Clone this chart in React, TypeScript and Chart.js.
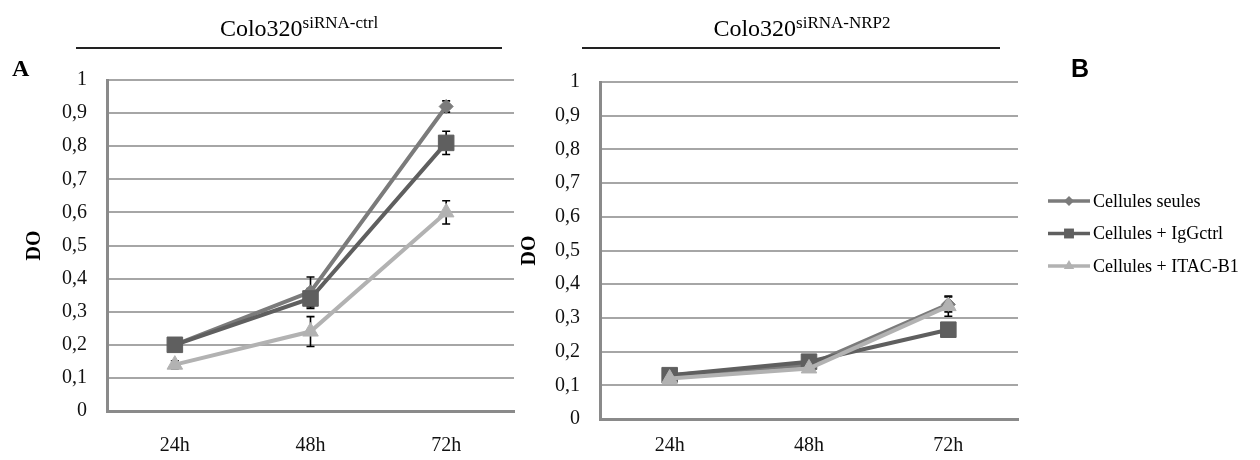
import React, { useEffect, useRef } from 'react';
import { Chart, registerables } from 'chart.js';

Chart.register(...registerables);

// ---------- data ----------
const categories = ['24h', '48h', '72h'];
const seriesLabels = ['Cellules seules', 'Cellules + IgGctrl', 'Cellules + ITAC-B1'];
const yTickLabels = ['0', '0,1', '0,2', '0,3', '0,4', '0,5', '0,6', '0,7', '0,8', '0,9', '1'];

// Colo320 siRNA-ctrl
const ctrlSeules = [0.2, 0.36, 0.92];
const ctrlIgG = [0.2, 0.34, 0.81];
const ctrlItac = [0.14, 0.24, 0.6];
const ctrlSeulesErr = [0.005, 0.045, 0.017];
const ctrlIgGErr = [0.005, 0.03, 0.035];
const ctrlItacErr = [0.012, 0.045, 0.035];

// Colo320 siRNA-NRP2
const nrp2Seules = [0.13, 0.16, 0.34];
const nrp2IgG = [0.13, 0.17, 0.265];
const nrp2Itac = [0.12, 0.15, 0.335];
const nrp2SeulesErr = [0.005, 0.008, 0.022];
const nrp2IgGErr = [0.005, 0.008, 0.01];
const nrp2ItacErr = [0.005, 0.008, 0.03];

// ---------- styles ----------
const seriesColors = ['#7b7b7b', '#5f5f5f', '#b2b2b2'];
const seriesPointStyles = ['rectRot', 'rect', 'triangle'];
const seriesPointRadii = [7, 11, 9];
const seriesOrder = [3, 2, 1];

const SERIF = "'Liberation Serif', 'Times New Roman', serif";

const errorBarPlugin = {
  id: 'errorBars',
  beforeDatasetsDraw(chart: any) {
    const { ctx } = chart;
    const yScale = chart.scales.y;
    ctx.save();
    ctx.strokeStyle = '#000';
    ctx.lineWidth = 1.6;
    chart.data.datasets.forEach((ds: any, i: number) => {
      const errs = ds.errors;
      if (!errs) return;
      const meta = chart.getDatasetMeta(i);
      meta.data.forEach((pt: any, j: number) => {
        const v = ds.data[j];
        const e = errs[j];
        const x = pt.x;
        const yt = yScale.getPixelForValue(v + e);
        const yb = yScale.getPixelForValue(v - e);
        ctx.beginPath();
        ctx.moveTo(x, yt);
        ctx.lineTo(x, yb);
        ctx.moveTo(x - 4, yt);
        ctx.lineTo(x + 4, yt);
        ctx.moveTo(x - 4, yb);
        ctx.lineTo(x + 4, yb);
        ctx.stroke();
      });
    });
    ctx.restore();
  },
};

function drawMarker(ctx: CanvasRenderingContext2D, style: string, x: number, y: number, r: number) {
  ctx.beginPath();
  if (style === 'rectRot') {
    ctx.moveTo(x, y - r);
    ctx.lineTo(x + r, y);
    ctx.lineTo(x, y + r);
    ctx.lineTo(x - r, y);
  } else if (style === 'rect') {
    const s = r * Math.SQRT1_2;
    ctx.rect(x - s, y - s, 2 * s, 2 * s);
  } else {
    const h = r;
    ctx.moveTo(x, y - h);
    ctx.lineTo(x + h * Math.sin((2 * Math.PI) / 3), y + h / 2);
    ctx.lineTo(x - h * Math.sin((2 * Math.PI) / 3), y + h / 2);
  }
  ctx.closePath();
  ctx.fill();
}

const sideLegendPlugin = {
  id: 'sideLegend',
  afterDraw(chart: any, _args: any, opts: any) {
    if (!opts || !opts.display) return;
    const { ctx } = chart;
    ctx.save();
    ctx.font = `18px ${SERIF}`;
    ctx.textBaseline = 'middle';
    ctx.textAlign = 'left';
    chart.data.datasets.forEach((ds: any, i: number) => {
      const y = opts.y0 + i * opts.gap;
      ctx.strokeStyle = ds.borderColor;
      ctx.fillStyle = ds.borderColor;
      ctx.lineWidth = 3.5;
      ctx.beginPath();
      ctx.moveTo(opts.x0, y);
      ctx.lineTo(opts.x0 + opts.len, y);
      ctx.stroke();
      drawMarker(ctx, ds.pointStyle, opts.x0 + opts.len / 2, y, opts.markerRadii[i]);
      ctx.fillStyle = '#000';
      ctx.fillText(ds.label, opts.x0 + opts.len + 3, y + 1);
    });
    ctx.restore();
  },
};

function buildConfig(
  values: number[][],
  errors: number[][],
  p: { top: number; right: number; yWidth: number; xHeight: number; xPad: number; titlePad: number; legend: any }
): any {
  return {
    type: 'line',
    data: {
      labels: categories,
      datasets: values.map((vals, i) => ({
        label: seriesLabels[i],
        data: vals,
        errors: errors[i],
        borderColor: seriesColors[i],
        backgroundColor: seriesColors[i],
        pointBackgroundColor: seriesColors[i],
        pointBorderColor: seriesColors[i],
        pointBorderWidth: 1,
        pointStyle: seriesPointStyles[i],
        pointRadius: seriesPointRadii[i],
        pointHoverRadius: seriesPointRadii[i],
        borderWidth: 4,
        tension: 0,
        fill: false,
        order: seriesOrder[i],
      })),
    },
    options: {
      responsive: false,
      animation: false,
      devicePixelRatio: 1,
      layout: { padding: { top: p.top, right: p.right, left: 0, bottom: 0 } },
      plugins: {
        legend: { display: false },
        tooltip: { enabled: false },
        sideLegend: p.legend,
      },
      scales: {
        x: {
          offset: true,
          grid: { display: false, drawTicks: false },
          border: { display: true, color: '#8a8a8a', width: 3 },
          ticks: { font: { family: SERIF, size: 20 }, color: '#111', padding: p.xPad },
          afterFit: (s: any) => {
            s.height = p.xHeight;
          },
        },
        y: {
          min: 0,
          max: 1,
          ticks: {
            stepSize: 0.1,
            font: { family: SERIF, size: 20 },
            color: '#111',
            padding: 20,
            callback: (_v: any, idx: number) => yTickLabels[idx],
          },
          grid: { color: '#a6a6a6', lineWidth: 2, drawTicks: false },
          border: { display: true, color: '#8a8a8a', width: 3 },
          title: {
            display: true,
            text: 'DO',
            font: { family: SERIF, size: 20, weight: 'bold' },
            color: '#000',
            padding: { top: p.titlePad, bottom: 0 },
          },
          afterFit: (s: any) => {
            s.width = p.yWidth;
          },
        },
      },
    },
    plugins: [errorBarPlugin, sideLegendPlugin],
  };
}

export default function App() {
  const ref1 = useRef<HTMLCanvasElement>(null);
  const ref2 = useRef<HTMLCanvasElement>(null);

  useEffect(() => {
    const c1 = new Chart(
      ref1.current as HTMLCanvasElement,
      buildConfig([ctrlSeules, ctrlIgG, ctrlItac], [ctrlSeulesErr, ctrlIgGErr, ctrlItacErr], {
        top: 80,
        right: 0,
        yWidth: 107,
        xHeight: 49,
        xPad: 23,
        titlePad: 23,
        legend: { display: false },
      })
    );
    const c2 = new Chart(
      ref2.current as HTMLCanvasElement,
      buildConfig([nrp2Seules, nrp2IgG, nrp2Itac], [nrp2SeulesErr, nrp2IgGErr, nrp2ItacErr], {
        top: 82,
        right: 242,
        yWidth: 100,
        xHeight: 41,
        xPad: 15,
        titlePad: 18,
        legend: { display: true, x0: 548, len: 42, y0: 201, gap: 32.5, markerRadii: [5, 7, 6] },
      })
    );
    return () => {
      c1.destroy();
      c2.destroy();
    };
  }, []);

  return (
    <div
      style={{
        position: 'absolute',
        left: 0,
        top: 0,
        width: 1260,
        height: 460,
        background: '#fff',
        overflow: 'hidden',
        fontFamily: SERIF,
        color: '#000',
      }}
    >
      <canvas ref={ref1} width={526} height={460} style={{ position: 'absolute', left: 0, top: 0 }} />
      <canvas ref={ref2} width={760} height={460} style={{ position: 'absolute', left: 500, top: 0 }} />

      <div style={{ position: 'absolute', left: 0, top: 16, width: 598, textAlign: 'center', fontSize: 24, lineHeight: '24px', whiteSpace: 'nowrap' }}>
        Colo320<span style={{ fontSize: 17, position: 'relative', top: -8 }}>siRNA-ctrl</span>
      </div>
      <div style={{ position: 'absolute', left: 76, top: 47, width: 426, height: 2, background: '#222' }} />

      <div style={{ position: 'absolute', left: 502, top: 16, width: 600, textAlign: 'center', fontSize: 24, lineHeight: '24px', whiteSpace: 'nowrap' }}>
        Colo320<span style={{ fontSize: 17, position: 'relative', top: -8 }}>siRNA-NRP2</span>
      </div>
      <div style={{ position: 'absolute', left: 582, top: 47, width: 418, height: 2, background: '#222' }} />

      <div style={{ position: 'absolute', left: 12, top: 56, fontSize: 24, lineHeight: '24px', fontWeight: 'bold' }}>A</div>
      <div
        style={{
          position: 'absolute',
          left: 1071,
          top: 56,
          fontSize: 25,
          lineHeight: '25px',
          fontWeight: 'bold',
          fontFamily: "'Liberation Sans', Arial, sans-serif",
        }}
      >
        B
      </div>
    </div>
  );
}
